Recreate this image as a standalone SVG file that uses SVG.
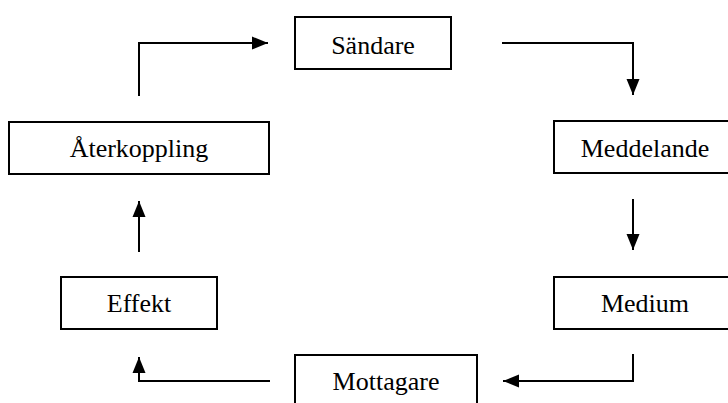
<svg xmlns="http://www.w3.org/2000/svg" width="728" height="403" viewBox="0 0 728 403">
<defs>
<marker id="arr" markerUnits="userSpaceOnUse" markerWidth="16" markerHeight="14" refX="16" refY="7" orient="auto">
<path d="M0,0.5 L16,7 L0,13.5 z" fill="#000"/>
</marker>
<style>
.box{fill:#fff;stroke:#000;stroke-width:2}
.lbl{font-family:"Times New Roman","Liberation Serif","DejaVu Serif",Times,serif;font-size:26px;fill:#000;text-anchor:middle}
.con{fill:none;stroke:#000;stroke-width:2;marker-end:url(#arr)}
</style>
</defs>
<rect width="728" height="403" fill="#fff"/>
<g id="connectors">
<path class="con" d="M139,96 V43 H268"/>
<path class="con" d="M502,43 H633 V95"/>
<path class="con" d="M633,199 V250"/>
<path class="con" d="M633,354 V381 H503"/>
<path class="con" d="M270,381 H139 V357"/>
<path class="con" d="M139,252 V201"/>
</g>
<g id="sandare"><rect class="box" x="295" y="17" width="156" height="52"/><text class="lbl" x="373" y="54">Sändare</text></g>
<g id="meddelande"><rect class="box" x="554" y="121" width="182" height="52"/><text class="lbl" x="645" y="157">Meddelande</text></g>
<g id="medium"><rect class="box" x="554" y="277" width="182" height="52"/><text class="lbl" x="645" y="312">Medium</text></g>
<g id="mottagare"><rect class="box" x="295" y="355" width="182" height="52"/><text class="lbl" x="386" y="390">Mottagare</text></g>
<g id="effekt"><rect class="box" x="61" y="277" width="156" height="52"/><text class="lbl" x="139" y="312">Effekt</text></g>
<g id="aterkoppling"><rect class="box" x="9" y="122" width="260" height="52"/><text class="lbl" x="139" y="157">Återkoppling</text></g>
</svg>
